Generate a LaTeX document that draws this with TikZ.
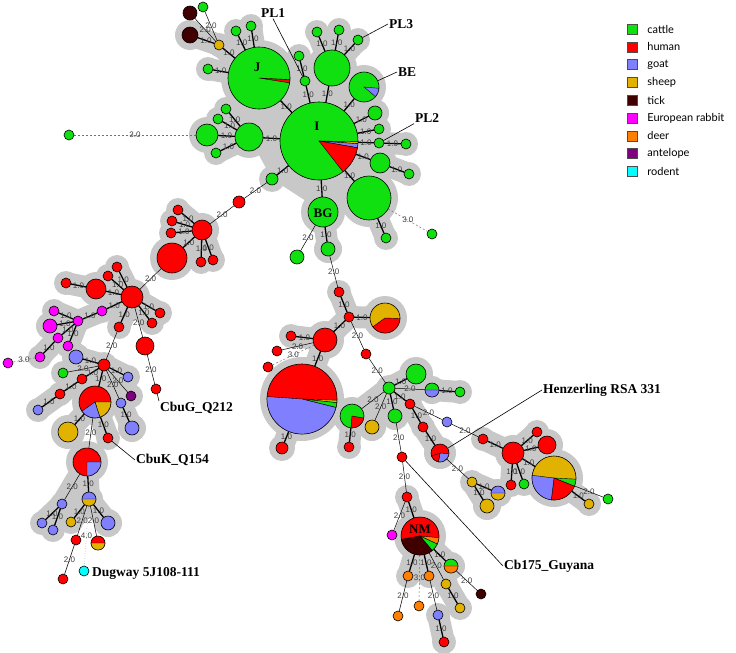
\documentclass[tikz,border=0pt]{standalone}
\usepackage{fontspec}
\setmainfont{Liberation Serif}
\newfontfamily\elabfont{Liberation Sans}
\newfontfamily\keyfont{Lato}
\usetikzlibrary{positioning}

\pgfdeclarelayer{background}
\pgfdeclarelayer{edges}
\pgfsetlayers{background,edges,main}

\definecolor{cattle}{RGB}{16,224,16}
\definecolor{human}{RGB}{255,0,0}
\definecolor{goat}{RGB}{128,128,255}
\definecolor{sheep}{RGB}{226,178,0}
\definecolor{tick}{RGB}{64,0,0}
\definecolor{rabbit}{RGB}{255,0,255}
\definecolor{deer}{RGB}{255,128,0}
\definecolor{antelope}{RGB}{128,0,128}
\definecolor{rodent}{RGB}{0,255,255}
\definecolor{hullgray}{RGB}{200,200,200}

\tikzset{
  iso/.style={circle, draw=black, line width=0.6pt, inner sep=0pt, outer sep=0pt},
  hull/.style={draw=hullgray, line width=22pt, line cap=round},
  e1/.style={line width=1.3pt},
  e2/.style={line width=0.5pt},
  e3/.style={line width=0.5pt, black!55, dash pattern=on 2pt off 2pt},
  e4/.style={line width=0.5pt, black!45, dotted},
  elab/.style={font=\elabfont\fontsize{8}{8}\selectfont, text=black!75, inner sep=0pt},
  tag/.style={font=\bfseries\fontsize{13}{13}\selectfont, inner sep=0pt},
  callout/.style={font=\bfseries\fontsize{13.5}{14}\selectfont, inner sep=1pt},
  pin/.style={line width=0.6pt},
  key/.style={draw=black!70, line width=0.4pt, minimum size=10pt, inner sep=0pt},
  keytext/.style={font=\keyfont\fontsize{11}{11}\selectfont, inner sep=0pt, anchor=west}
}

% isolate node: name, position, radius, colour
\newcommand{\iso}[4]{%
  \node[iso, minimum size=#3*2pt, fill=#4] (#1) at (#2) {};
  \expandafter\xdef\csname rr@#1\endcsname{#3}}
% pie slice: node, from angle, to angle, colour
\newcommand{\cut}[4]{%
  \edef\rr{\csname rr@#1\endcsname}%
  \filldraw[fill=#4, draw=black, line width=0.4pt] (#1.center) -- ++(#2:\rr pt)
    arc[start angle=#2, end angle=#3, radius=\rr pt] -- cycle;}
% link: style, from, to, distance
\newcommand{\ed}[4]{\draw[#1] (#2) -- node[elab] {#4} (#3);}
% grey hull round a clonal complex
\newcommand{\blob}[1]{\foreach \n in {#1}{%
  \fill[hullgray] (\n.center) circle ({\csname rr@\n\endcsname pt + 7pt});}}
\newcommand{\band}[1]{\foreach \a/\b in {#1}{\draw[hull] (\a.center) -- (\b.center);}}

\begin{document}
\begin{tikzpicture}[x=1pt,y=1pt]
\useasboundingbox (0,0) rectangle (736,-653);

% complex around I and J
\iso{J}{259,-78}{31}{cattle}
\iso{I}{319,-141}{39}{cattle}
\iso{M}{332,-68}{18}{cattle}
\iso{t1}{317,-32}{5}{cattle}
\iso{t2}{339,-30}{5}{cattle}
\iso{PL3n}{358,-40}{5}{cattle}
\iso{t3}{299,-56}{5}{cattle}
\iso{PL1n}{305,-81}{5}{cattle}
\iso{BE}{364,-87}{15}{cattle}
\iso{r1}{375,-113}{7}{cattle}
\iso{r2}{379,-129}{5}{cattle}
\iso{PL2n}{379,-143}{5}{cattle}
\iso{r4}{406,-144}{5}{cattle}
\iso{r5}{380,-163}{10}{cattle}
\iso{r6}{409,-174}{5}{cattle}
\iso{LR}{369,-198}{22}{cattle}
\iso{lr1}{386,-238}{5}{cattle}
\iso{lr2}{432,-234}{5}{cattle}
\iso{BG}{323,-212}{15}{cattle}
\iso{bg1}{328,-249}{7}{cattle}
\iso{bg2}{297,-257}{7}{cattle}
\iso{L}{249,-137}{14}{cattle}
\iso{l1}{226,-109}{5}{cattle}
\iso{l2}{218,-119}{5}{cattle}
\iso{l3}{207,-135}{11}{cattle}
\iso{l4}{216,-153}{5}{cattle}
\iso{l5}{69,-135}{5}{cattle}
\iso{sm}{272,-179}{6}{cattle}
\iso{rd1}{239,-202}{6}{human}
\iso{j1}{236,-31}{5}{cattle}
\iso{j2}{251,-26}{5}{cattle}
\iso{j3}{208,-69}{5}{cattle}
\iso{sh}{219,-45}{5}{sheep}
\iso{tk1}{190,-13}{7}{tick}
\iso{tk2}{190,-35}{8}{tick}
\iso{gt}{203,-7}{5}{cattle}
\cut{J}{-3}{-9}{human}
\cut{I}{-1}{-4}{sheep}
\cut{I}{-4}{-10}{goat}
\cut{I}{-10}{-52}{human}
\cut{BE}{-5}{-40}{goat}
\node[tag] (lJ) at (257,-67) {J};
\node[tag] (lI) at (317,-126) {I};
\node[tag] (lBG) at (323,-213) {BG};

% human complexes on the left
\iso{R2}{202,-230}{10}{human}
\iso{a1}{178,-210}{5}{human}
\iso{a2}{172,-221}{5}{human}
\iso{a3}{171,-233}{5}{human}
\iso{a4}{201,-262}{5}{human}
\iso{a5}{213,-260}{5}{human}
\iso{A}{172,-258}{15}{human}
\iso{B}{132,-297}{11}{human}
\iso{b1}{117,-267}{5}{human}
\iso{b2}{108,-276}{5}{human}
\iso{Bb}{96,-289}{10}{human}
\iso{bb1}{66,-283}{5}{human}
\iso{b3}{160,-313}{5}{human}
\iso{b4}{152,-323}{5}{human}
\iso{b5}{119,-327}{5}{human}
\iso{mg0}{102,-311}{5}{rabbit}
\iso{m1}{54,-311}{5}{rabbit}
\iso{m2}{50,-326}{7}{rabbit}
\iso{m3}{78,-321}{5}{rabbit}
\iso{m4}{58,-338}{5}{rabbit}
\iso{m5}{68,-346}{5}{rabbit}
\iso{m6}{40,-357}{5}{rabbit}
\iso{m7}{8,-363}{5}{rabbit}
\iso{b6}{145,-346}{9}{human}
\iso{Gn}{156,-389}{5}{human}
\iso{C}{104,-365}{6}{human}
\iso{c1}{76,-357}{7}{goat}
\iso{c2}{63,-373}{5}{cattle}
\iso{c3}{82,-379}{5}{human}
\iso{c4}{60,-394}{5}{human}
\iso{c5}{38,-410}{5}{goat}
\iso{c6}{128,-377}{5}{goat}
\iso{c7}{131,-396}{5}{antelope}
\iso{c8}{121,-403}{5}{goat}
\iso{c9}{132,-428}{7}{goat}
\iso{P1}{95,-402}{16}{human}
\iso{y1}{68,-432}{10}{sheep}
\iso{Kn}{108,-438}{5}{human}
\iso{P2}{87,-462}{14}{human}
\iso{g1}{62,-504}{5}{goat}
\iso{g2}{42,-523}{5}{goat}
\iso{g3}{53,-530}{5}{goat}
\iso{H1}{89,-499}{7}{goat}
\iso{y2}{71,-522}{5}{sheep}
\iso{g4}{108,-523}{7}{goat}
\iso{r7}{76,-540}{5}{human}
\iso{r8}{63,-579}{5}{human}
\iso{H2}{98,-543}{7}{human}
\iso{rod}{84,-571}{5}{rodent}
\cut{P1}{0}{-72}{sheep}
\cut{P1}{-72}{-145}{goat}
\cut{P2}{0}{-90}{goat}
\cut{H1}{180}{360}{sheep}
\cut{H2}{180}{360}{sheep}

% middle and lower right
\iso{mr1}{339,-292}{5}{human}
\iso{mr2}{349,-317}{5}{human}
\iso{PS}{385,-318}{15}{sheep}
\iso{MR}{325,-340}{12}{human}
\iso{mr3}{291,-336}{5}{human}
\iso{mr4}{277,-351}{5}{human}
\iso{mr5}{268,-367}{5}{human}
\iso{BP}{302,-399}{35}{human}
\iso{mr6}{282,-448}{6}{human}
\iso{mr7}{366,-354}{5}{human}
\iso{Hb}{389,-388}{6}{cattle}
\iso{h1}{416,-374}{10}{cattle}
\iso{HP}{432,-390}{7}{cattle}
\iso{h2}{460,-392}{5}{cattle}
\iso{PP}{352,-416}{12}{cattle}
\iso{h6}{349,-447}{5}{human}
\iso{h3}{372,-427}{7}{sheep}
\iso{h4}{395,-416}{7}{cattle}
\iso{h5}{410,-404}{5}{human}
\iso{h7}{423,-427}{5}{human}
\iso{HZ}{440,-453}{9}{human}
\iso{h8}{447,-422}{5}{goat}
\iso{h9}{483,-439}{5}{human}
\iso{RB}{513,-453}{11}{human}
\iso{rb1}{537,-432}{5}{human}
\iso{rb2}{547,-445}{9}{human}
\iso{rb3}{511,-485}{5}{human}
\iso{rb4}{524,-484}{5}{cattle}
\iso{BP2}{554,-478}{22}{sheep}
\iso{rb5}{589,-504}{5}{sheep}
\iso{rb6}{608,-499}{5}{cattle}
\iso{y3}{472,-482}{5}{sheep}
\iso{HP2}{498,-493}{7}{goat}
\iso{y4}{487,-506}{7}{sheep}
\iso{d1}{402,-457}{5}{human}
\iso{d2}{407,-497}{5}{human}
\iso{NM}{420,-536}{19}{human}
\iso{mg}{392,-535}{5}{rabbit}
\iso{HN}{451,-566}{7}{cattle}
\iso{tk3}{481,-594}{5}{tick}
\iso{o1}{408,-576}{5}{deer}
\iso{o2}{429,-576}{5}{deer}
\iso{o3}{419,-606}{5}{deer}
\iso{y5}{446,-584}{5}{sheep}
\iso{y6}{460,-608}{5}{sheep}
\iso{o4}{398,-616}{5}{deer}
\iso{g5}{438,-615}{5}{goat}
\iso{r9}{444,-642}{5}{human}
\cut{PS}{-2}{-144}{human}
\cut{BP}{-2}{-6}{sheep}
\cut{BP}{-6}{-14}{cattle}
\cut{BP}{-14}{-184}{goat}
\cut{PP}{-10}{-95}{human}
\cut{HP}{180}{360}{goat}
\cut{HZ}{-5}{-100}{goat}
\cut{HZ}{-100}{-160}{human}
\cut{BP2}{-3}{-22}{cattle}
\cut{BP2}{-22}{-97}{human}
\cut{BP2}{-97}{-187}{goat}
\cut{HP2}{180}{360}{sheep}
\cut{NM}{-5}{-25}{deer}
\cut{NM}{-25}{-50}{cattle}
\cut{NM}{-50}{-170}{tick}
\cut{HN}{180}{360}{deer}
\node[tag] (lNM) at (420,-529) {NM};

\begin{pgfonlayer}{edges}
\ed{e1}{J}{I}{1.0}
\ed{e1}{J}{j1}{1.0}
\ed{e1}{J}{j2}{1.0}
\ed{e1}{J}{j3}{1.0}
\ed{e1}{J}{sh}{1.0}
\ed{e2}{sh}{tk1}{2.0}
\ed{e1}{sh}{tk2}{1.0}
\ed{e2}{sh}{gt}{2.0}
\ed{e1}{I}{M}{1.0}
\ed{e1}{M}{t1}{1.0}
\ed{e1}{M}{t2}{1.0}
\ed{e1}{M}{PL3n}{1.0}
\ed{e1}{I}{PL1n}{1.0}
\ed{e1}{PL1n}{t3}{1.0}
\ed{e1}{I}{BE}{1.0}
\ed{e1}{I}{r1}{1.0}
\ed{e1}{I}{r2}{1.0}
\ed{e1}{I}{PL2n}{1.0}
\ed{e1}{PL2n}{r4}{1.0}
\ed{e1}{I}{r5}{1.0}
\ed{e1}{r5}{r6}{1.0}
\ed{e1}{I}{LR}{1.0}
\ed{e1}{LR}{lr1}{1.0}
\ed{e3}{LR}{lr2}{3.0}
\ed{e1}{I}{BG}{1.0}
\ed{e1}{BG}{bg1}{1.0}
\ed{e2}{BG}{bg2}{2.0}
\ed{e1}{I}{L}{1.0}
\ed{e1}{L}{l1}{1.0}
\ed{e1}{L}{l2}{1.0}
\ed{e1}{L}{l3}{1.0}
\ed{e1}{L}{l4}{1.0}
\ed{e3}{l3}{l5}{3.0}
\ed{e1}{I}{sm}{1.0}
\ed{e2}{sm}{rd1}{2.0}
\ed{e2}{rd1}{R2}{2.0}
\foreach \k in {a1,a2,a3,a4,a5,A}{\ed{e1}{R2}{\k}{1.0}}
\ed{e2}{A}{B}{2.0}
\foreach \k in {b1,b2,Bb,b3,b4,b5,mg0}{\ed{e1}{B}{\k}{1.0}}
\ed{e1}{Bb}{bb1}{1.0}
\ed{e2}{B}{b6}{2.0}
\ed{e2}{b6}{Gn}{2.0}
\ed{e1}{mg0}{m3}{1.0}
\foreach \k in {m1,m2,m4,m5}{\ed{e1}{m3}{\k}{1.0}}
\ed{e1}{m4}{m6}{1.0}
\ed{e3}{m6}{m7}{3.0}
\ed{e2}{b5}{C}{2.0}
\ed{e1}{C}{c1}{1.0}
\ed{e2}{C}{c2}{2.0}
\ed{e1}{C}{c3}{1.0}
\ed{e1}{c3}{c4}{1.0}
\ed{e1}{c4}{c5}{1.0}
\ed{e1}{C}{P1}{1.0}
\ed{e1}{C}{c6}{1.0}
\ed{e2}{C}{c7}{2.0}
\ed{e2}{C}{c8}{2.0}
\ed{e1}{c8}{c9}{1.0}
\ed{e1}{P1}{y1}{1.0}
\ed{e1}{P1}{Kn}{1.0}
\ed{e2}{P1}{P2}{2.0}
\ed{e2}{P2}{g1}{2.0}
\ed{e1}{g1}{g2}{1.0}
\ed{e1}{g1}{g3}{1.0}
\ed{e1}{P2}{H1}{1.0}
\ed{e1}{H1}{y2}{1.0}
\ed{e1}{H1}{g4}{1.0}
\ed{e2}{H1}{r7}{2.0}
\ed{e2}{H1}{H2}{2.0}
\ed{e4}{H1}{rod}{4.0}
\ed{e2}{r7}{r8}{2.0}
\ed{e2}{bg1}{mr1}{2.0}
\ed{e1}{mr1}{mr2}{1.0}
\ed{e1}{mr2}{PS}{1.0}
\ed{e1}{mr2}{MR}{1.0}
\ed{e1}{MR}{mr3}{1.0}
\ed{e2}{MR}{mr4}{2.0}
\ed{e3}{MR}{mr5}{3.0}
\ed{e1}{MR}{BP}{1.0}
\ed{e1}{BP}{mr6}{1.0}
\ed{e2}{mr2}{mr7}{2.0}
\ed{e2}{mr7}{Hb}{2.0}
\ed{e1}{Hb}{h1}{1.0}
\ed{e2}{Hb}{HP}{2.0}
\ed{e1}{HP}{h2}{1.0}
\ed{e2}{Hb}{PP}{2.0}
\ed{e1}{PP}{h6}{1.0}
\ed{e2}{Hb}{h3}{2.0}
\ed{e1}{Hb}{h4}{1.0}
\ed{e1}{Hb}{h5}{1.0}
\ed{e1}{h5}{h7}{1.0}
\ed{e1}{h7}{HZ}{1.0}
\ed{e2}{h5}{h8}{2.0}
\ed{e2}{h8}{h9}{2.0}
\ed{e1}{h9}{RB}{1.0}
\foreach \k in {rb1,rb2,rb3,rb4,BP2}{\ed{e1}{RB}{\k}{1.0}}
\ed{e1}{BP2}{rb5}{1.0}
\ed{e2}{BP2}{rb6}{2.0}
\ed{e2}{HZ}{y3}{2.0}
\ed{e1}{y3}{HP2}{1.0}
\ed{e1}{y3}{y4}{1.0}
\ed{e2}{h4}{d1}{2.0}
\ed{e2}{d1}{d2}{2.0}
\ed{e1}{d2}{NM}{1.0}
\ed{e2}{d2}{mg}{2.0}
\ed{e1}{NM}{HN}{1.0}
\ed{e2}{HN}{tk3}{2.0}
\ed{e1}{NM}{o1}{1.0}
\ed{e1}{NM}{o2}{1.0}
\ed{e3}{NM}{o3}{3.0}
\ed{e2}{NM}{y5}{2.0}
\ed{e1}{y5}{y6}{1.0}
\ed{e2}{o1}{o4}{2.0}
\ed{e2}{o2}{g5}{2.0}
\ed{e1}{g5}{r9}{1.0}
\end{pgfonlayer}

\begin{pgfonlayer}{background}
% hulls
\fill[hullgray] (J.center) -- (M.center) -- (BE.center) -- (r5.center) -- (LR.center)
  -- (BG.center) -- (sm.center) -- (L.center) -- cycle;
\blob{J,I,M,t1,t2,PL3n,t3,PL1n,BE,r1,r2,PL2n,r4,r5,r6,LR,lr1,BG,bg1,L,l1,l2,l3,l4,sm,j1,j2,j3,sh,tk2}
\band{J/I,J/j1,J/j2,J/j3,J/sh,sh/tk2,I/M,M/t1,M/t2,M/PL3n,I/PL1n,PL1n/t3,I/BE,I/r1,I/r2,I/PL2n,PL2n/r4,I/r5,r5/r6,I/LR,LR/lr1,I/BG,BG/bg1,I/L,L/l1,L/l2,L/l3,L/l4,I/sm,J/M,L/J}
\blob{R2,a1,a2,a3,a4,a5,A}
\band{R2/a1,R2/a2,R2/a3,R2/a4,R2/a5,R2/A}
\blob{B,b1,b2,Bb,bb1,b3,b4,b5,mg0,m1,m2,m3,m4,m5,m6}
\band{B/b1,B/b2,B/Bb,B/b3,B/b4,B/b5,B/mg0,Bb/bb1,mg0/m3,m3/m1,m3/m2,m3/m4,m3/m5,m4/m6}
\blob{C,c1,c2,c3,c4,c5,c6,c7,c8,c9,P1,y1,Kn}
\band{C/c1,C/c2,C/c3,c3/c4,c4/c5,C/P1,C/c6,C/c7,C/c8,c8/c9,P1/y1,P1/Kn}
\blob{P2,H1,g1,g2,g3,y2,g4}
\band{P2/H1,P2/g1,g1/g2,g1/g3,H1/y2,H1/g4}
\blob{mr1,mr2,PS,MR,mr3,BP,mr6}
\band{mr1/mr2,mr2/PS,mr2/MR,MR/mr3,MR/BP,BP/mr6}
\blob{Hb,h1,HP,h2,h4,h5,h7,HZ,PP,h3,h6}
\band{Hb/h1,Hb/HP,HP/h2,Hb/h4,Hb/h5,h5/h7,h7/HZ,Hb/PP,Hb/h3,PP/h6}
\blob{h9,RB,rb1,rb2,rb3,rb4,BP2,rb5}
\band{h9/RB,RB/rb1,RB/rb2,RB/rb3,RB/rb4,RB/BP2,BP2/rb5}
\blob{y3,HP2,y4}
\band{y3/HP2,y3/y4}
\blob{d2,NM,HN,o1,o2,y5,y6}
\band{d2/NM,NM/HN,NM/o1,NM/o2,NM/y5,y5/y6}
\blob{g5,r9}
\band{g5/r9}
\end{pgfonlayer}

% strain names
\node[callout] (tPL1) at (273,-13) {PL1};
\node[callout, anchor=west] (tPL3) at (388,-24) {PL3};
\node[callout, anchor=west] (tBE) at (397,-72) {BE};
\node[callout, anchor=west] (tPL2) at (414,-118) {PL2};
\node[callout, anchor=west] (tHZ) at (542,-390) {Henzerling RSA 331};
\node[callout, anchor=west] (tCb) at (503,-566) {Cb175\_Guyana};
\node[callout, anchor=west] (tG) at (159,-408) {CbuG\_Q212};
\node[callout, anchor=west] (tK) at (135,-460) {CbuK\_Q154};
\node[callout, anchor=west] (tD) at (91,-573) {Dugway 5J108-111};
\draw[pin] (PL1n) -- (tPL1.south);
\draw[pin] (PL3n) -- (tPL3.west);
\draw[pin] (BE) -- (tBE.west);
\draw[pin] (PL2n) -- (tPL2.south west);
\draw[pin] (HZ) -- (tHZ.west);
\draw[pin] (d1) -- (tCb.west);
\draw[pin] (Gn) -- (tG.north west);
\draw[pin] (Kn) -- (tK.west);

% legend
\foreach \c/\t [count=\k] in {cattle/cattle, human/human, goat/goat, sheep/sheep, tick/tick,
    rabbit/European rabbit, deer/deer, antelope/antelope, rodent/rodent}{
  \node[key, fill=\c] (k\k) at (632,{-29-17.8*(\k-1)}) {};
  \node[keytext, right=10pt of k\k] (kt\k) {\t};
}
\end{tikzpicture}
\end{document}
